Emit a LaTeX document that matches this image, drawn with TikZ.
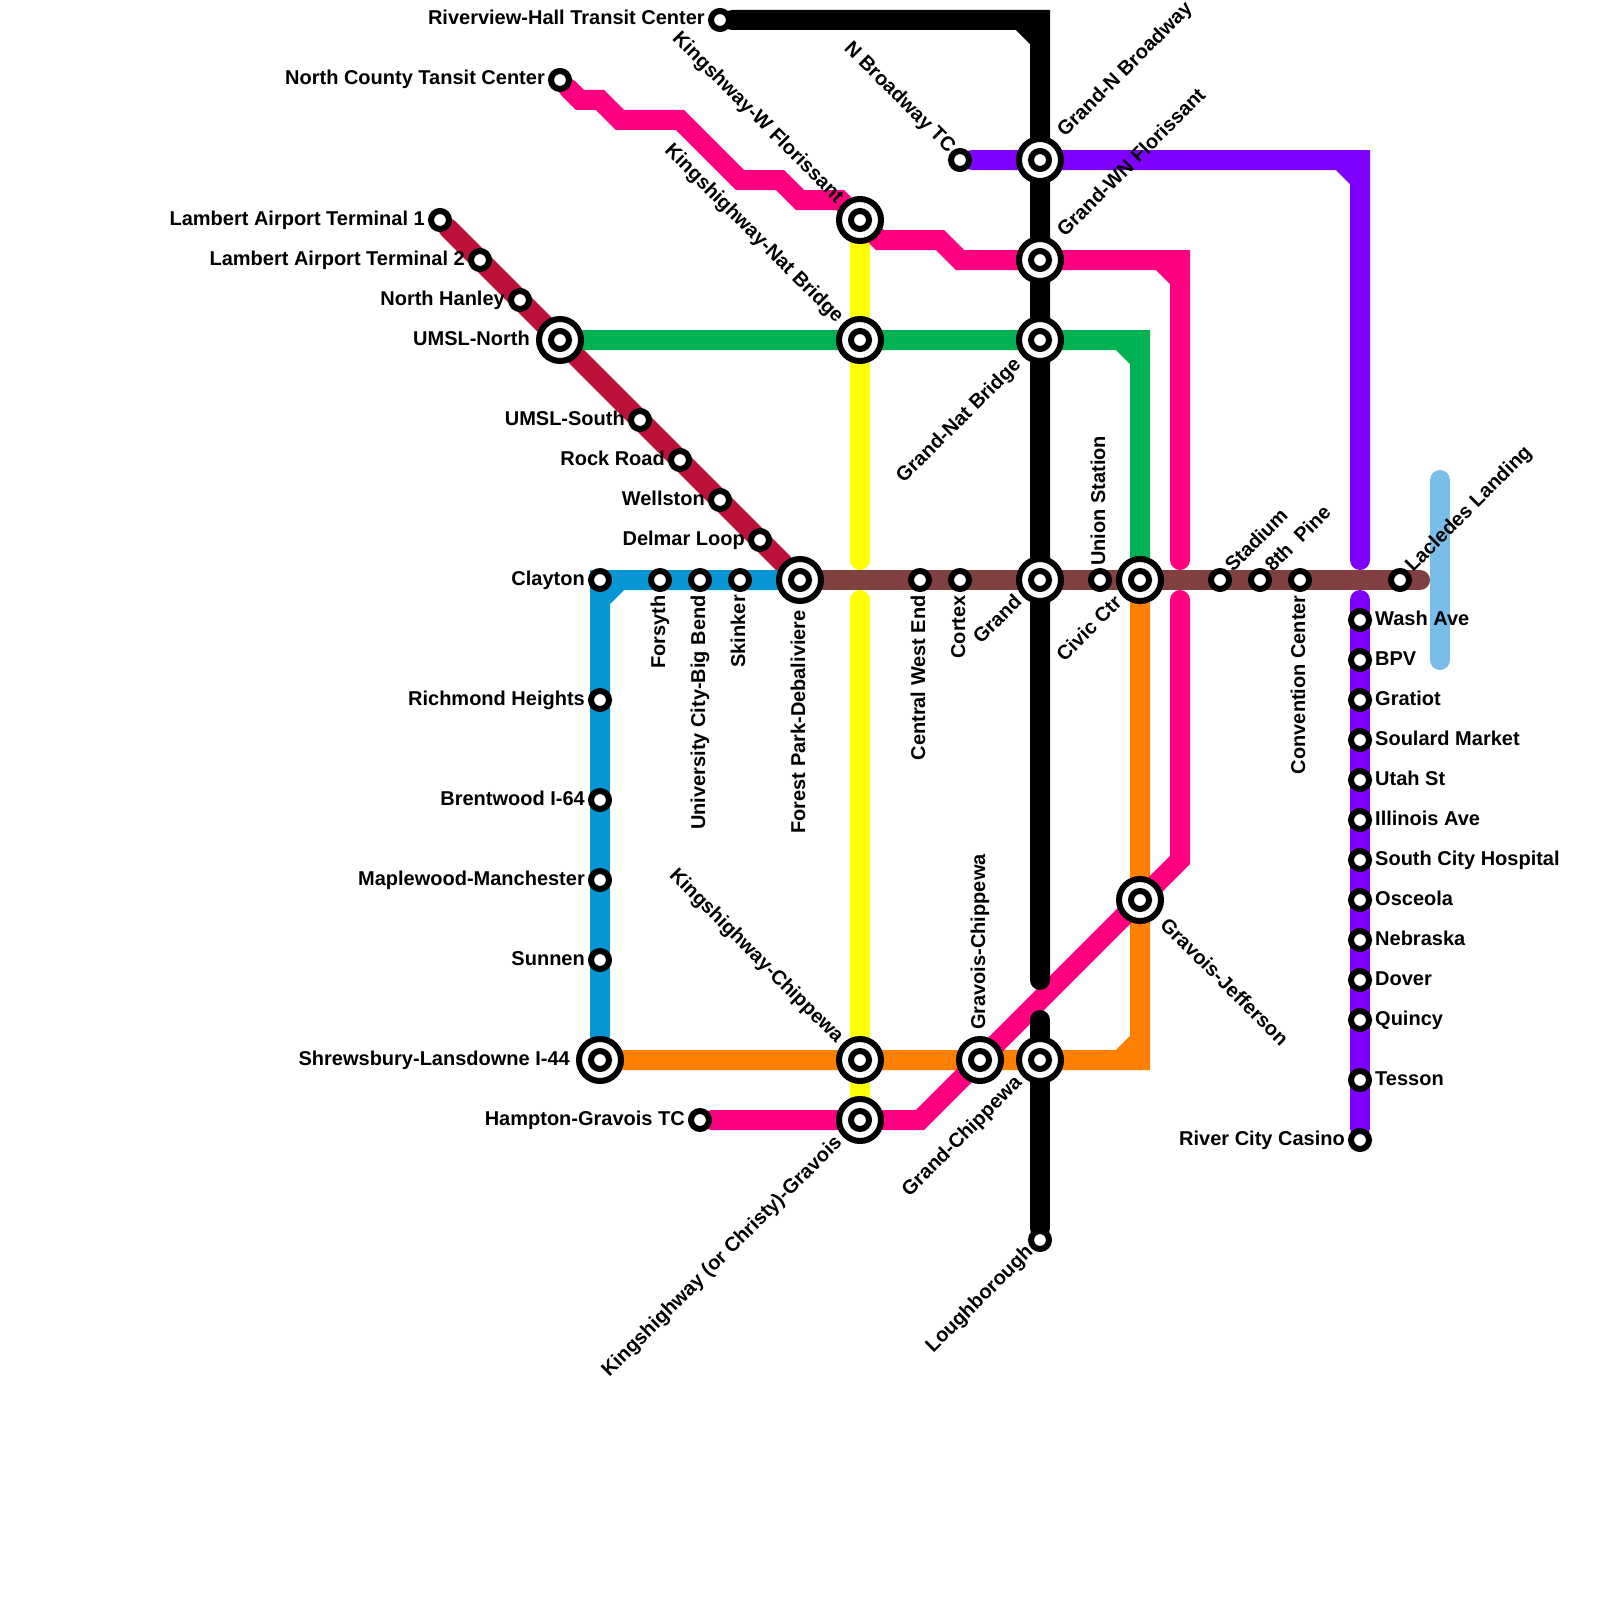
\documentclass[tikz,border=0pt]{standalone}
\usepackage{fontspec}
\setmainfont{Liberation Sans}
\usetikzlibrary{backgrounds}
\definecolor{linecrimson}{HTML}{BD1038}
\definecolor{lineblue}{HTML}{0896D7}
\definecolor{linegreen}{HTML}{00B251}
\definecolor{linesky}{HTML}{79BDE9}
\definecolor{linebrown}{HTML}{804040}
\definecolor{linepink}{HTML}{FF0080}
\definecolor{linepurple}{HTML}{8000FF}
\definecolor{lineorange}{HTML}{FF8000}
\definecolor{lineyellow}{HTML}{FFFF00}
\tikzset{
  station/.style={circle, draw, fill=white, line width=6pt, minimum size=18pt, inner sep=0pt},
  interchange/.style={circle, draw, fill=white, line width=6pt, minimum size=42pt, inner sep=0pt,
    path picture={\draw[line width=6pt] (path picture bounding box.center) circle (9pt);}},
  stationtext/.style={font=\fontsize{20}{20}\selectfont\bfseries, inner sep=0pt, text height=15pt, text depth=1pt},
  railway/.style={line width=20pt, line cap=round, line join=miter, miter limit=10},
}

\begin{document}
\begin{tikzpicture}[x=1pt, y=-1pt]
\useasboundingbox (0,0) rectangle (1600,1600);

% interchanges
\node[interchange] (kingwf) at (860,220) {};
\node[interchange] (kingnat) at (860,340) {};
\node[interchange] (kingchip) at (860,1060) {};
\node[interchange] (kinggrav) at (860,1120) {};
\node[interchange] (grandnb) at (1040,160) {};
\node[interchange] (grandwn) at (1040,260) {};
\node[interchange] (grandnat) at (1040,340) {};
\node[interchange] (grand) at (1040,580) {};
\node[interchange] (grandchip) at (1040,1060) {};
\node[interchange] (umslnorth) at (560,340) {};
\node[interchange] (forestpark) at (800,580) {};
\node[interchange] (civicctr) at (1140,580) {};
\node[interchange] (gravjeff) at (1140,900) {};
\node[interchange] (shrewsbury) at (600,1060) {};
\node[interchange] (gravchip) at (980,1060) {};

% plain stations
\node[station] (riverview) at (720,20) {};
\node[station] (northcounty) at (560,80) {};
\node[station] (lambertone) at (440,220) {};
\node[station] (lamberttwo) at (480,260) {};
\node[station] (northhanley) at (520,300) {};
\node[station] (umslsouth) at (640,420) {};
\node[station] (rockroad) at (680,460) {};
\node[station] (wellston) at (720,500) {};
\node[station] (delmar) at (760,540) {};
\node[station] (clayton) at (600,580) {};
\node[station] (forsyth) at (660,580) {};
\node[station] (bigbend) at (700,580) {};
\node[station] (skinker) at (740,580) {};
\node[station] (richmond) at (600,700) {};
\node[station] (brentwood) at (600,800) {};
\node[station] (maplewood) at (600,880) {};
\node[station] (sunnen) at (600,960) {};
\node[station] (hampton) at (700,1120) {};
\node[station] (nbroadway) at (960,160) {};
\node[station] (westend) at (920,580) {};
\node[station] (cortex) at (960,580) {};
\node[station] (union) at (1100,580) {};
\node[station] (stadium) at (1220,580) {};
\node[station] (eighthpine) at (1260,580) {};
\node[station] (convention) at (1300,580) {};
\node[station] (lacledes) at (1400,580) {};
\node[station] (loughborough) at (1040,1240) {};
\node[station] (washave) at (1360,620) {};
\node[station] (bpv) at (1360,660) {};
\node[station] (gratiot) at (1360,700) {};
\node[station] (soulard) at (1360,740) {};
\node[station] (utah) at (1360,780) {};
\node[station] (illinois) at (1360,820) {};
\node[station] (southcity) at (1360,860) {};
\node[station] (osceola) at (1360,900) {};
\node[station] (nebraska) at (1360,940) {};
\node[station] (dover) at (1360,980) {};
\node[station] (quincy) at (1360,1020) {};
\node[station] (tesson) at (1360,1080) {};
\node[station] (casino) at (1360,1140) {};

% bends and free ends
\coordinate (blackcorner) at (1040,20);
\coordinate (blackbevela) at (1020,20);
\coordinate (blackbevelb) at (1040,40);
\coordinate (blackupper) at (1040,980);
\coordinate (blacklower) at (1040,1020);
\coordinate (purplecorner) at (1360,160);
\coordinate (purplebevela) at (1340,160);
\coordinate (purplebevelb) at (1360,180);
\coordinate (purpleupper) at (1360,560);
\coordinate (purplelower) at (1360,600);
\coordinate (greencorner) at (1140,340);
\coordinate (greenbevela) at (1120,340);
\coordinate (greenbevelb) at (1140,360);
\coordinate (orangecorner) at (1140,1060);
\coordinate (orangebevela) at (1120,1060);
\coordinate (orangebevelb) at (1140,1040);
\coordinate (bluecorner) at (600,580);
\coordinate (bluebevela) at (620,580);
\coordinate (bluebevelb) at (600,600);
\coordinate (yellowupper) at (860,560);
\coordinate (yellowlower) at (860,600);
\coordinate (brownend) at (1420,580);
\coordinate (skytop) at (1440,480);
\coordinate (skybottom) at (1440,660);
\coordinate (pinka) at (580,100);
\coordinate (pinkb) at (600,100);
\coordinate (pinkc) at (620,120);
\coordinate (pinkd) at (680,120);
\coordinate (pinke) at (740,180);
\coordinate (pinkf) at (780,180);
\coordinate (pinkg) at (800,200);
\coordinate (pinkh) at (840,200);
\coordinate (pinki) at (880,240);
\coordinate (pinkj) at (940,240);
\coordinate (pinkk) at (960,260);
\coordinate (pinkcorner) at (1180,260);
\coordinate (pinkbevela) at (1160,260);
\coordinate (pinkbevelb) at (1180,280);
\coordinate (pinkupper) at (1180,560);
\coordinate (pinklower) at (1180,600);
\coordinate (pinkl) at (1180,860);
\coordinate (pinkm) at (920,1120);

\begin{scope}[on background layer]
\draw[railway, linesky] (skytop) -- (skybottom);
\draw[railway, linecrimson] (lambertone) -- (forestpark);
\draw[railway, lineblue] (forestpark) -- (bluecorner) -- (shrewsbury) (bluebevela) -- (bluebevelb);
\draw[railway, lineyellow] (kingwf) -- (yellowupper) (yellowlower) -- (kinggrav);
\draw[railway, linegreen] (umslnorth) -- (greencorner) -- (civicctr) (greenbevela) -- (greenbevelb);
\draw[railway, lineorange] (shrewsbury) -- (orangecorner) -- (civicctr) (orangebevela) -- (orangebevelb);
\draw[railway, linepink] (northcounty) -- (pinka) -- (pinkb) -- (pinkc) -- (pinkd) -- (pinke) -- (pinkf) -- (pinkg) -- (pinkh) -- (kingwf);
\draw[railway, linepink] (kingwf) -- (pinki) -- (pinkj) -- (pinkk) -- (pinkcorner) -- (pinkupper) (pinkbevela) -- (pinkbevelb);
\draw[railway, linepink] (pinklower) -- (pinkl) -- (pinkm) -- (hampton);
\draw[railway, black] (riverview) -- (blackcorner) -- (blackupper) (blackbevela) -- (blackbevelb);
\draw[railway, black] (blacklower) -- (loughborough);
\draw[railway, linepurple] (nbroadway) -- (purplecorner) -- (purpleupper) (purplebevela) -- (purplebevelb);
\draw[railway, linepurple] (purplelower) -- (casino);
\draw[railway, linebrown] (forestpark) -- (brownend);
\end{scope}

% labels to the left
\node[stationtext, anchor=east] (riverviewtext) at (705,18) {Riverview-Hall Transit Center};
\node[stationtext, anchor=east] (northcountytext) at (545,78) {North County Tansit Center};
\node[stationtext, anchor=east] (lambertonetext) at (425,218) {Lambert Airport Terminal 1};
\node[stationtext, anchor=east] (lamberttwotext) at (465,258) {Lambert Airport Terminal 2};
\node[stationtext, anchor=east] (northhanleytext) at (505,298) {North Hanley};
\node[stationtext, anchor=east] (umslnorthtext) at (530,338) {UMSL-North};
\node[stationtext, anchor=east] (umslsouthtext) at (625,418) {UMSL-South};
\node[stationtext, anchor=east] (rockroadtext) at (665,458) {Rock Road};
\node[stationtext, anchor=east] (wellstontext) at (705,498) {Wellston};
\node[stationtext, anchor=east] (delmartext) at (745,538) {Delmar Loop};
\node[stationtext, anchor=east] (claytontext) at (585,578) {Clayton};
\node[stationtext, anchor=east] (richmondtext) at (585,698) {Richmond Heights};
\node[stationtext, anchor=east] (brentwoodtext) at (585,798) {Brentwood I-64};
\node[stationtext, anchor=east] (maplewoodtext) at (585,878) {Maplewood-Manchester};
\node[stationtext, anchor=east] (sunnentext) at (585,958) {Sunnen};
\node[stationtext, anchor=east] (shrewsburytext) at (570,1058) {Shrewsbury-Lansdowne I-44};
\node[stationtext, anchor=east] (hamptontext) at (685,1118) {Hampton-Gravois TC};
\node[stationtext, anchor=east] (casinotext) at (1345,1138) {River City Casino};

% labels to the right
\node[stationtext, anchor=west] (washavetext) at (1375,618) {Wash Ave};
\node[stationtext, anchor=west] (bpvtext) at (1375,658) {BPV};
\node[stationtext, anchor=west] (gratiottext) at (1375,698) {Gratiot};
\node[stationtext, anchor=west] (soulardtext) at (1375,738) {Soulard Market};
\node[stationtext, anchor=west] (utahtext) at (1375,778) {Utah St};
\node[stationtext, anchor=west] (illinoistext) at (1375,818) {Illinois Ave};
\node[stationtext, anchor=west] (southcitytext) at (1375,858) {South City Hospital};
\node[stationtext, anchor=west] (osceolatext) at (1375,898) {Osceola};
\node[stationtext, anchor=west] (nebraskatext) at (1375,938) {Nebraska};
\node[stationtext, anchor=west] (dovertext) at (1375,978) {Dover};
\node[stationtext, anchor=west] (quincytext) at (1375,1018) {Quincy};
\node[stationtext, anchor=west] (tessontext) at (1375,1078) {Tesson};

% upright labels
\node[stationtext, rotate=90, anchor=east] (forsythtext) at (658,595) {Forsyth};
\node[stationtext, rotate=90, anchor=east] (bigbendtext) at (698,595) {University City-Big Bend};
\node[stationtext, rotate=90, anchor=east] (skinkertext) at (738,595) {Skinker};
\node[stationtext, rotate=90, anchor=east] (forestparktext) at (798,610) {Forest Park-Debaliviere};
\node[stationtext, rotate=90, anchor=east] (westendtext) at (918,595) {Central West End};
\node[stationtext, rotate=90, anchor=east] (cortextext) at (958,595) {Cortex};
\node[stationtext, rotate=90, anchor=east] (conventiontext) at (1298,595) {Convention Center};
\node[stationtext, rotate=90, anchor=west] (uniontext) at (1098,566) {Union Station};
\node[stationtext, rotate=90, anchor=west] (gravchiptext) at (978,1030) {Gravois-Chippewa};

% labels rising to the right
\node[stationtext, rotate=45, anchor=west] (grandnbtext) at (1060,133) {Grand-N Broadway};
\node[stationtext, rotate=45, anchor=west] (grandwntext) at (1060,233) {Grand-WN Florissant};
\node[stationtext, rotate=45, anchor=west] (stadiumtext) at (1228,568) {Stadium};
\node[stationtext, rotate=45, anchor=west] (eighthpinetext) at (1268,568) {8th\ \ Pine};
\node[stationtext, rotate=45, anchor=west] (lacledestext) at (1408,568) {Lacledes Landing};

% labels ending low on the left
\node[stationtext, rotate=45, anchor=east] (grandnattext) at (1017,361) {Grand-Nat Bridge};
\node[stationtext, rotate=45, anchor=east] (grandtext) at (1018,598) {Grand};
\node[stationtext, rotate=45, anchor=east] (civicctrtext) at (1118,599) {Civic Ctr};
\node[stationtext, rotate=45, anchor=east] (kinggravtext) at (838,1139) {Kingshighway (or Christy)-Gravois};
\node[stationtext, rotate=45, anchor=east] (grandchiptext) at (1018,1079) {Grand-Chippewa};
\node[stationtext, rotate=45, anchor=east] (loughboroughtext) at (1029,1248) {Loughborough};

% labels falling to the right
\node[stationtext, rotate=-45, anchor=east] (nbroadwaytext) at (953,149) {N Broadway TC};
\node[stationtext, rotate=-45, anchor=east] (kingwftext) at (841,199) {Kingshway-W Florissant};
\node[stationtext, rotate=-45, anchor=east] (kingnattext) at (841,319) {Kingshighway-Nat Bridge};
\node[stationtext, rotate=-45, anchor=east] (kingchiptext) at (841,1039) {Kingshighway-Chippewa};
\node[stationtext, rotate=-45, anchor=west] (gravjefftext) at (1164,921) {Gravois-Jefferson};
\end{tikzpicture}
\end{document}
